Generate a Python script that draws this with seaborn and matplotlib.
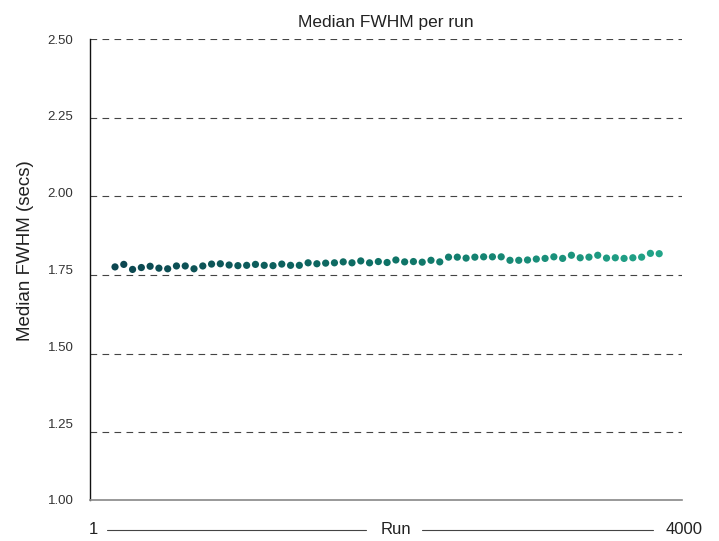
import numpy as np
import pandas as pd
import matplotlib
matplotlib.use("Agg")
import matplotlib.pyplot as plt
from matplotlib.colors import LinearSegmentedColormap
from matplotlib.lines import Line2D
import seaborn as sns

# Median FWHM (seconds) for consecutive run groups, first run to last
median_fwhm = [
    1.776, 1.784, 1.768, 1.774, 1.778, 1.772, 1.770, 1.779, 1.779, 1.770,
    1.779, 1.785, 1.786, 1.782, 1.780, 1.781, 1.784, 1.781, 1.780, 1.785,
    1.781, 1.781, 1.789, 1.786, 1.788, 1.789, 1.792, 1.789, 1.795, 1.789,
    1.793, 1.790, 1.798, 1.792, 1.793, 1.791, 1.797, 1.792, 1.807, 1.807,
    1.804, 1.807, 1.808, 1.808, 1.808, 1.797, 1.797, 1.798, 1.801, 1.803,
    1.808, 1.803, 1.813, 1.805, 1.807, 1.813, 1.804, 1.805, 1.803, 1.805,
    1.807, 1.819, 1.818,
]
y_tick_labels = ["1.00", "1.25", "1.50", "1.75", "2.00", "2.25", "2.50"]
grid_values = [1.25, 1.50, 1.75, 2.00, 2.25, 2.50]
run_first, run_last = "1", "4000"

df = pd.DataFrame({"order": range(len(median_fwhm)), "fwhm": median_fwhm})

sns.set_theme(style="white")
plt.rcParams["font.family"] = ["Liberation Sans", "DejaVu Sans"]

fig = plt.figure(figsize=(7.19, 5.41), dpi=100)
ax = fig.add_axes([90 / 719, 41 / 541, 592 / 719, 461 / 541])

teal = LinearSegmentedColormap.from_list("teal", ["#0c4650", "#0e7266", "#22a488"])
sns.scatterplot(data=df, x="order", y="fwhm", hue="order", palette=teal,
                legend=False, s=27, linewidth=0, ax=ax, zorder=3)

y_lo, y_hi = 1.0355, 2.5
ax.set_ylim(y_lo, y_hi)
ax.set_xlim(-2.85, 64.6)

for g in grid_values:
    ax.axhline(g, color="#444444", lw=0.8, dashes=(6, 4.8), zorder=1)

ax.set_yticks(np.linspace(y_lo, y_hi, len(y_tick_labels)))
ax.set_yticklabels(y_tick_labels, fontsize=9.5, color="#333333")
ax.tick_params(axis="y", length=0, pad=12)
ax.set_xticks([])
ax.set_xlabel("")
ax.set_ylabel("Median FWHM (secs)", fontsize=13.5, color="#222222")
ax.yaxis.set_label_coords(-0.094, 0.54)
ax.set_title("Median FWHM per run", fontsize=12.5, color="#222222", pad=9)

for side in ("top", "right"):
    ax.spines[side].set_visible(False)
ax.spines["left"].set_color("#111111")
ax.spines["left"].set_linewidth(1.0)
ax.spines["bottom"].set_color("#888888")
ax.spines["bottom"].set_linewidth(1.2)

# x-axis caption: first run, rule, "Run", rule, last run
yc = -0.065
ax.text(0.005, yc, run_first, transform=ax.transAxes, ha="center", va="center",
        fontsize=12, color="#222222")
ax.text(0.516, yc, "Run", transform=ax.transAxes, ha="center", va="center",
        fontsize=12, color="#222222")
ax.text(1.003, yc, run_last, transform=ax.transAxes, ha="center", va="center",
        fontsize=12, color="#222222")
for x0, x1 in [(0.0287, 0.466), (0.561, 0.951)]:
    ax.add_line(Line2D([x0, x1], [yc, yc], transform=ax.transAxes, color="#444444",
                       lw=0.8, clip_on=False))

fig.savefig("out.png", dpi=100)
